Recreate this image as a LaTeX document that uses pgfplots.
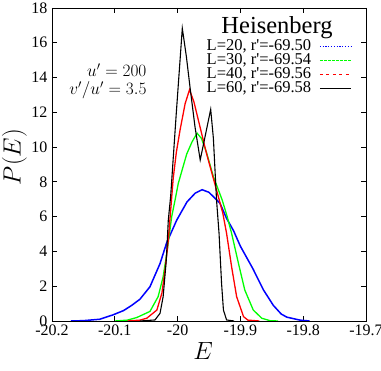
\documentclass[border=0pt]{standalone}
\usepackage[no-math]{fontspec}
\setmainfont{Liberation Serif}
\usepackage{pgfplots}
\pgfplotsset{compat=1.18}
\definecolor{gpgreen}{RGB}{0,255,0}

\begin{document}
\begin{tikzpicture}
\begin{axis}[
    at={(0,0)}, anchor=south west,
    scale only axis,
    width=314pt, height=313pt,
    xmin=-20.2, xmax=-19.7,
    ymin=0, ymax=18,
    xtick={-20.2,-20.1,-20,-19.9,-19.8,-19.7},
    ytick={0,2,...,18},
    tick align=inside,
    major tick length=5pt,
    axis line style={line width=0.9pt},
    every tick/.style={black, line width=0.9pt},
    /pgf/number format/assume math mode=true,
    xticklabel style={/pgf/number format/fixed, /pgf/number format/precision=1},
    ticklabel style={font=\fontsize{16}{18}\selectfont},
    yticklabel style={xshift=-1pt},
    xlabel={$E$},
    ylabel={$P(E)$},
    xlabel style={font=\fontsize{33}{36}\selectfont, at={(axis description cs:0.481,-0.096)}, anchor=center},
    ylabel style={font=\fontsize{31}{36}\selectfont, at={(axis description cs:-0.12,0.524)}, anchor=center},
    legend plot pos=right,
    legend cell align=right,
    legend style={
        at={(rel axis cs:0.954,0.898)}, anchor=north east,
        draw=none, fill=none, inner sep=0pt,
        font=\fontsize{16.5}{18}\selectfont,
        row sep=2pt,
        nodes={inner sep=0pt, text height=10pt, text depth=2pt},
        /tikz/every odd column/.append style={column sep=8pt},
    },
]

% L=20
\addplot[blue, line width=1.5pt,
    legend image code/.code={\draw[blue, line width=0.8pt, dash pattern=on 1.2pt off 1.6pt] (0pt,0pt) -- (31pt,0pt);}]
coordinates {
    (-20.17,0) (-20.15,0.02) (-20.124,0.1) (-20.103,0.35) (-20.086,0.6)
    (-20.073,0.9) (-20.06,1.25) (-20.044,1.97) (-20.028,3.3) (-20.0174,4.5)
    (-20.0014,5.8) (-19.985,6.85) (-19.972,7.35) (-19.961,7.55) (-19.950,7.4)
    (-19.9325,6.77) (-19.922,5.9) (-19.911,5.2) (-19.90,4.3) (-19.88,3.0)
    (-19.8635,1.8) (-19.8476,0.9) (-19.835,0.4) (-19.826,0.22) (-19.805,0.05)
    (-19.79,0)
};
\addlegendentry{L=20, r\textquotesingle=-69.50}
% L=30
\addplot[gpgreen, line width=1.3pt,
    legend image code/.code={\draw[gpgreen, line width=0.8pt, dash pattern=on 3pt off 1pt] (0pt,0pt) -- (31pt,0pt);}]
coordinates {
    (-20.10,0) (-20.08,0.05) (-20.065,0.2) (-20.044,0.55) (-20.031,1.4)
    (-20.023,2.55) (-20.0164,4.08) (-20.0094,6.0) (-20.004,6.96) (-19.999,7.9)
    (-19.9855,9.6) (-19.977,10.3) (-19.969,10.8) (-19.962,10.5) (-19.954,9.7)
    (-19.943,8.3) (-19.929,6.96) (-19.921,6.0) (-19.914,5.04) (-19.903,3.3)
    (-19.893,1.78) (-19.8795,0.63) (-19.866,0.16) (-19.853,0.02) (-19.84,0)
};
\addlegendentry{L=30, r\textquotesingle=-69.54}
% L=40
\addplot[red, line width=1.3pt,
    legend image code/.code={\draw[red, line width=0.8pt, dash pattern=on 3pt off 3.5pt] (0pt,0pt) -- (31pt,0pt);}]
coordinates {
    (-20.08,0) (-20.06,0.05) (-20.049,0.16) (-20.033,0.63) (-20.025,1.6)
    (-20.02,2.93) (-20.0148,4.66) (-20.011,6.38) (-20.007,8.2) (-20.002,9.7)
    (-19.996,11.0) (-19.988,12.5) (-19.981,13.3) (-19.974,12.6) (-19.967,11.56)
    (-19.954,9.64) (-19.934,7.0) (-19.928,6.2) (-19.922,5.04) (-19.914,3.12)
    (-19.906,1.4) (-19.895,0.25) (-19.888,0.05) (-19.87,0)
};
\addlegendentry{L=40, r\textquotesingle=-69.56}
% L=60
\addplot[black, line width=1.1pt,
    legend image code/.code={\draw[black, line width=1.1pt] (0pt,0pt) -- (31pt,0pt);}]
coordinates {
    (-20.06,0) (-20.036,0.06) (-20.028,0.44) (-20.023,1.4) (-20.018,3.5)
    (-20.0148,5.8) (-20.011,7.2) (-20.002,12.0) (-19.9925,16.83) (-19.986,15.2)
    (-19.9803,13.47) (-19.9723,11.17) (-19.964,9.26) (-19.958,10.3) (-19.9473,12.17)
    (-19.943,10.5) (-19.938,6.96) (-19.934,5.04) (-19.93,2.17) (-19.927,0.63)
    (-19.922,0.06) (-19.91,0)
};
\addlegendentry{L=60, r\textquotesingle=-69.58}

\node[font=\fontsize{24.5}{26}\selectfont] at (axis cs:-19.8417,16.85) {Heisenberg};
\node[font=\fontsize{16.5}{18}\selectfont, align=right, anchor=east]
    at (axis cs:-20.044,13.8) {$u'=200$\\$v'/u'=3.5$};

\end{axis}
\pgfresetboundingbox
\path (-52pt,-50pt) rectangle (329pt,321pt);
\end{tikzpicture}
\end{document}
